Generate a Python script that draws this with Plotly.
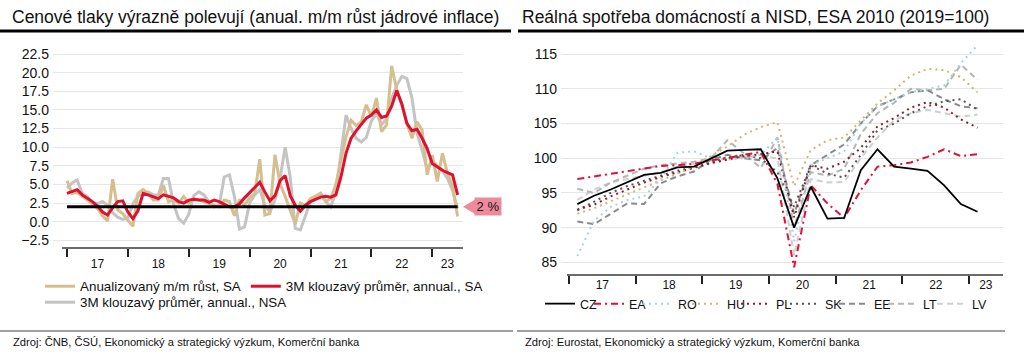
import plotly.graph_objects as go

W, H = 1024, 355
FONT = "Liberation Sans, Arial, Helvetica, sans-serif"


def px(x):
    return x / W


def py(y):
    return (H - y) / H


# ---------------- Left panel data (monthly, Jan 2017 - Jun 2023) ----------------
START_YEAR = 2017
CORE_MM_SA = [
    5.5, 3.8, 3.9, 3.4, 3.0, 2.4, 1.8, 0.8, 0.1, 5.7, 1.6, 1.1,
    0.2, -0.6, 3.8, 4.3, 3.8, 2.9, 2.9, 4.9, 2.7, 2.9, 2.5, 3.4,
    2.5, 3.1, 2.9, 2.7, 2.5, 2.3, 2.0, 2.9, 2.7, 0.8, 3.0, 2.2,
    3.2, 3.8, 8.4, 0.9, 1.1, 9.0, 5.1, 3.4, 1.5, -0.3, 2.5, 2.2,
    3.1, 3.4, 3.8, 2.7, 3.1, 5.0, 8.0, 11.4, 13.6, 12.9, 13.4, 15.7,
    14.1, 16.6, 12.1, 13.0, 20.9, 17.7, 15.7, 13.2, 11.2, 13.4, 12.3, 6.3,
    8.9, 5.4, 9.2, 6.5, 4.7, 0.7,
]
CORE_3M_SA = [
    3.8, 4.0, 4.3, 3.6, 3.2, 2.7, 2.1, 1.3, 0.9, 1.9, 2.7, 2.8,
    1.3, 0.4, 1.5, 3.8, 3.6, 3.3, 3.1, 3.6, 3.4, 3.2, 2.7, 2.5,
    2.9, 3.0, 2.9, 2.9, 2.6, 2.9, 2.7, 2.4, 2.0, 2.0, 2.4, 3.2,
    3.9, 4.5, 5.3, 4.0, 2.8, 3.5, 5.5, 6.2, 3.5, 2.2, 1.4, 2.2,
    2.7, 3.0, 3.3, 3.4, 3.3, 3.6, 6.0, 9.2, 11.2, 12.2, 13.1, 13.9,
    14.3, 15.0, 14.0, 14.2, 15.5, 17.6, 15.8, 13.2, 12.2, 12.4, 11.2, 9.8,
    7.8, 7.3, 6.9, 6.6, 6.3, 3.6,
]
CORE_3M_NSA = [
    4.5, 5.2, 5.6, 3.8, 3.4, 2.6, 2.4, 2.7, 2.2, 1.2, 0.6, 0.3,
    0.5, 2.4, 3.5, 3.6, 4.0, 3.6, 3.6, 5.8, 5.8, 2.4, 0.4, -0.2,
    1.0, 3.5, 4.0, 3.6, 2.7, 2.0, 2.2, 6.0, 6.3, 3.4, -1.0, -0.7,
    2.5, 3.6, 4.3, 2.2, 1.3, 2.9, 5.8, 10.0, 6.0, -0.9, -1.1, 0.7,
    2.7, 3.4, 3.8, 2.7, 2.0, 4.0, 9.0, 14.3, 12.5, 11.2, 10.7, 11.3,
    13.5, 14.5, 13.0, 13.8, 16.5, 18.3, 19.5, 19.2, 16.6, 11.8, 9.6, 7.0,
    8.2, 7.5, 6.8, 5.8, 4.2, 1.8,
]
INFLATION_TARGET = 2.0
LEFT_NAMES = ["Anualizovaný m/m růst, SA", "3M klouzavý průměr, annual., SA",
              "3M klouzavý průměr, annual., NSA"]

# ---------------- Right panel data (quarterly, 2017Q1 - 2023Q1) ----------------
CZ = [93.4, 94.6, 95.5, 96.5, 97.6, 97.9, 98.7, 98.8, 100.0, 101.1, 101.2, 101.3,
      97.1, 90.0, 95.9, 91.3, 91.4, 98.3, 101.3, 98.8, 98.5, 98.2, 96.1, 93.4, 92.3]
EA = [97.0, 97.4, 97.8, 98.2, 98.6, 98.9, 99.0, 99.2, 99.7, 100.0, 100.5, 100.9,
      96.3, 84.3, 96.1, 93.5, 91.4, 95.4, 98.8, 99.0, 99.4, 100.2, 101.3, 100.3, 100.6]
RO = [85.9, 91.0, 93.0, 94.0, 94.5, 97.0, 100.8, 101.0, 100.0, 99.8, 100.0, 100.5,
      103.0, 88.0, 99.0, 100.0, 101.0, 105.0, 107.5, 108.5, 109.5, 110.0, 110.5, 113.7, 116.3]
HU = [92.0, 92.8, 93.8, 94.8, 95.8, 96.8, 97.8, 98.8, 100.3, 101.7, 103.4, 104.5,
      105.2, 96.0, 101.2, 102.6, 103.0, 105.5, 107.9, 109.8, 111.9, 112.9, 112.7, 111.7, 109.5]
PL = [92.6, 93.3, 94.5, 95.5, 96.5, 97.3, 98.0, 98.7, 99.3, 99.8, 100.3, 100.6,
      101.0, 91.5, 99.0, 98.5, 99.5, 101.5, 104.6, 105.8, 107.3, 108.1, 107.3, 105.6, 104.4]
SK = [92.5, 93.8, 95.0, 96.0, 96.8, 97.5, 98.2, 98.8, 99.3, 100.2, 100.5, 100.0,
      98.0, 93.0, 99.0, 97.8, 97.2, 100.5, 104.0, 105.0, 106.5, 107.5, 108.2, 108.5, 107.0]
EE = [90.9, 90.5, 92.0, 93.5, 93.4, 96.4, 97.4, 98.1, 99.8, 100.5, 100.0, 99.7,
      101.5, 92.0, 99.0, 100.5, 102.0, 105.0, 107.5, 108.5, 109.5, 109.8, 108.5, 107.5, 107.2]
LT = [95.6, 95.0, 96.5, 97.5, 98.5, 99.0, 99.3, 99.5, 100.0, 102.6, 100.7, 98.6,
      103.0, 90.0, 98.0, 97.5, 98.5, 103.5, 106.5, 108.0, 110.0, 109.8, 110.0, 113.5, 111.3]
LV = [94.0, 95.5, 96.5, 97.0, 97.5, 98.0, 98.8, 99.2, 99.5, 100.0, 100.2, 100.3,
      100.0, 86.0, 97.0, 96.5, 96.6, 100.0, 103.0, 105.5, 106.5, 107.0, 106.5, 106.0, 106.3]

YEAR_LABELS = ["17", "18", "19", "20", "21", "22", "23"]
YEAR_LABEL_POS = [2017.5, 2018.5, 2019.5, 2020.5, 2021.5, 2022.5, 2023.25]
YEAR_BOUNDS = [2017, 2018, 2019, 2020, 2021, 2022, 2023]

x_month = [START_YEAR + i / 12 for i in range(len(CORE_MM_SA))]
x_quarter = [START_YEAR + (i + 0.5) / 4 for i in range(len(CZ))]

LEFT_XRANGE = [2016.77, 2023.505]
RIGHT_XRANGE = [2016.88, 2023.507]

fig = go.Figure()

# ---- left traces ----
fig.add_trace(go.Scatter(x=x_month, y=CORE_3M_NSA, name=LEFT_NAMES[2], mode="lines",
                         line=dict(color="#c4c4c4", width=3), legend="legend3",
                         xaxis="x", yaxis="y"))
fig.add_trace(go.Scatter(x=x_month, y=CORE_MM_SA, name=LEFT_NAMES[0], mode="lines",
                         line=dict(color="#d4bf8f", width=3), legend="legend", legendrank=1,
                         xaxis="x", yaxis="y"))
fig.add_trace(go.Scatter(x=x_month, y=CORE_3M_SA, name=LEFT_NAMES[1], mode="lines",
                         line=dict(color="#e0102f", width=3), legend="legend", legendrank=2,
                         xaxis="x", yaxis="y"))
fig.add_trace(go.Scatter(x=x_month, y=[INFLATION_TARGET] * len(x_month), mode="lines",
                         line=dict(color="#000000", width=3), showlegend=False,
                         xaxis="x", yaxis="y"))

# ---- right traces ----
series = [
    ("LV", LV, "#cfcfcf", "6px,4px", 2, 9),
    ("LT", LT, "#b5b5b5", "6px,4px", 2, 8),
    ("EE", EE, "#8a8a8a", "6px,4px", 2, 7),
    ("SK", SK, "#555555", "2px,4px", 2, 6),
    ("PL", PL, "#8c1c2c", "2px,4px", 2, 5),
    ("HU", HU, "#d2b47c", "2px,4px", 2, 4),
    ("RO", RO, "#a9d3dc", "2px,4px", 2, 3),
    ("EA", EA, "#e0103a", "7px,4px,2px,4px", 2, 2),
    ("CZ", CZ, "#000000", "solid", 1.8, 1),
]
for name, vals, color, dash, width, rank in series:
    extra = dict(legendwidth=24) if name == "LV" else {}
    fig.add_trace(go.Scatter(x=x_quarter, y=vals, name=name, mode="lines",
                             line=dict(color=color, width=width, dash=dash),
                             legend="legend2", legendrank=rank,
                             xaxis="x2", yaxis="y2", **extra))

axis_common = dict(showgrid=False, zeroline=False, showline=False,
                   tickmode="array", tickvals=YEAR_LABEL_POS,
                   ticktext=YEAR_LABELS, ticks="",
                   tickfont=dict(family=FONT, size=12, color="#111"),
                   minor=dict(tickmode="array", tickvals=YEAR_BOUNDS, ticks="outside",
                              ticklen=8, tickwidth=2, tickcolor="#222", showgrid=False))

yaxis_common = dict(showgrid=True, gridcolor="#e6e6e6", gridwidth=1, zeroline=False,
                    showline=False, ticks="", tickfont=dict(family=FONT, size=14, color="#111"))

LEG_FONT = dict(family=FONT, size=13.4, color="#111")

fig.update_layout(
    width=W, height=H, autosize=False,
    margin=dict(l=0, r=0, t=0, b=0),
    paper_bgcolor="white", plot_bgcolor="white",
    font=dict(family=FONT, color="#111"),
    showlegend=True, hovermode=False,
    xaxis=dict(domain=[px(53), px(463)], range=LEFT_XRANGE, anchor="y",
               ticklabelstandoff=7, **axis_common),
    yaxis=dict(domain=[py(248), py(44)], range=[-3.53, 23.85], anchor="x",
               tickmode="array", tickvals=[-2.5 + 2.5 * i for i in range(11)],
               tickformat=".1f", ticklabelstandoff=3, **yaxis_common),
    xaxis2=dict(domain=[px(561), px(1003)], range=RIGHT_XRANGE, anchor="y2",
                ticklabelstandoff=1, **axis_common),
    yaxis2=dict(domain=[py(275), py(44)], range=[83.18, 116.47], anchor="x2",
                tickmode="array", tickvals=[85, 90, 95, 100, 105, 110, 115],
                ticklabelstandoff=3, **yaxis_common),
    legend=dict(orientation="h", x=px(40), y=py(271), xanchor="left", yanchor="top",
                font=LEG_FONT, bgcolor="rgba(0,0,0,0)", itemwidth=30, tracegroupgap=0),
    legend3=dict(orientation="h", x=px(40), y=py(287), xanchor="left", yanchor="top",
                 font=LEG_FONT, bgcolor="rgba(0,0,0,0)", itemwidth=30),
    legend2=dict(orientation="h", x=px(540), y=py(289), xanchor="left", yanchor="top",
                 font=dict(family=FONT, size=12.5, color="#111"), bgcolor="rgba(0,0,0,0)",
                 itemwidth=30, entrywidth=4),
)

# x axis baselines (start at the first year boundary, as in the original)
fig.add_shape(type="line", xref="x", yref="y domain", x0=2016.918, x1=LEFT_XRANGE[1],
              y0=0, y1=0, line=dict(color="#3a3a3a", width=1.5), layer="above")
fig.add_shape(type="line", xref="x2", yref="y2 domain", x0=2016.97, x1=RIGHT_XRANGE[1],
              y0=0, y1=0, line=dict(color="#3a3a3a", width=1.5), layer="above")

# titles
fig.add_annotation(text="Cenové tlaky výrazně polevují (anual. m/m růst jádrové inflace)",
                   x=px(10), y=py(17), xref="paper", yref="paper", xanchor="left",
                   yanchor="middle", showarrow=False, font=dict(family=FONT, size=17.5, color="#111"))
fig.add_annotation(text="Reálná spotřeba domácností a NISD, ESA 2010 (2019=100)",
                   x=px(520), y=py(17), xref="paper", yref="paper", xanchor="left",
                   yanchor="middle", showarrow=False, font=dict(family=FONT, size=17.5, color="#111"))
# sources
fig.add_annotation(text="Zdroj: ČNB, ČSÚ, Ekonomický a strategický výzkum, Komerční banka",
                   x=px(11), y=py(342), xref="paper", yref="paper", xanchor="left",
                   yanchor="middle", showarrow=False, font=dict(family=FONT, size=11.2, color="#111"))
fig.add_annotation(text="Zdroj: Eurostat, Ekonomický a strategický výzkum, Komerční banka",
                   x=px(523), y=py(342), xref="paper", yref="paper", xanchor="left",
                   yanchor="middle", showarrow=False, font=dict(family=FONT, size=11.2, color="#111"))

# header / footer rules
for x0, x1 in [(0, 511), (518, 1024)]:
    fig.add_shape(type="line", xref="paper", yref="paper", x0=px(x0), x1=px(x1),
                  y0=py(31), y1=py(31), line=dict(color="#000", width=3))
for x0, x1 in [(0, 513), (517, 1005)]:
    fig.add_shape(type="line", xref="paper", yref="paper", x0=px(x0), x1=px(x1),
                  y0=py(331), y1=py(331), line=dict(color="#7f7f7f", width=1.5))

# 2 % label with arrow
fig.add_shape(type="path", xref="paper", yref="y",
              path=f"M {px(463)},{INFLATION_TARGET} L {px(476)},{INFLATION_TARGET + 1.05} "
                   f"L {px(476)},{INFLATION_TARGET - 1.05} Z",
              fillcolor="#ef8a9c", line=dict(width=0))
fig.add_annotation(text="2 %", x=px(488), y=INFLATION_TARGET, xref="paper", yref="y",
                   xanchor="center", yanchor="middle", showarrow=False,
                   bgcolor="#ef8a9c", width=24, height=15,
                   font=dict(family=FONT, size=13, color="#111"))

fig.write_html("out.html", config={"displayModeBar": False},
               post_script="document.body.style.margin='0';")
